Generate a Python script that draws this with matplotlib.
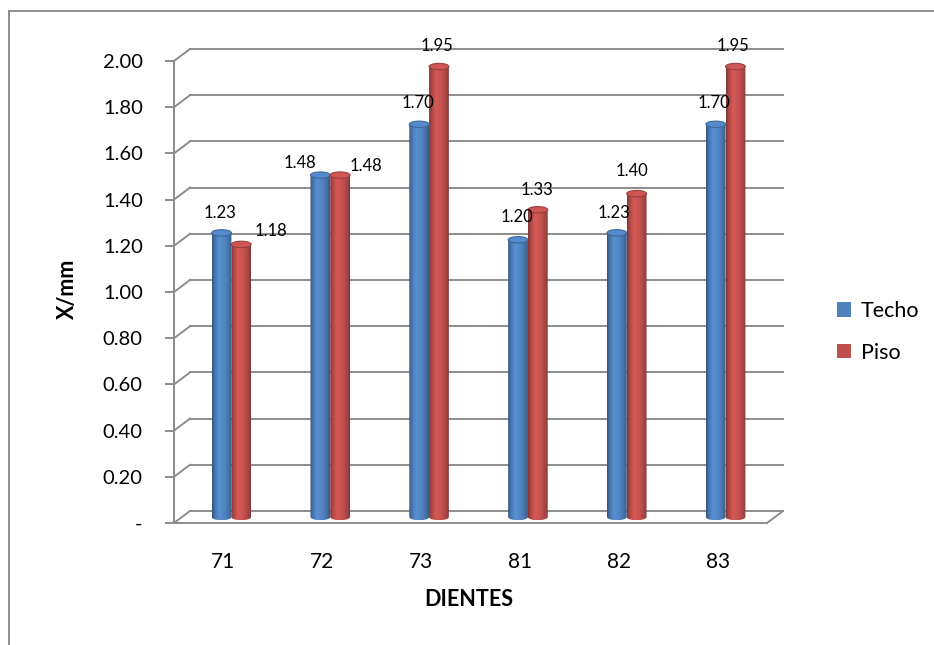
import numpy as np
import matplotlib
matplotlib.use("Agg")
import matplotlib.pyplot as plt
from matplotlib.patches import Polygon, Ellipse, Patch
from matplotlib.lines import Line2D
from matplotlib.colors import to_rgb

plt.rcParams['font.family'] = ['Lato', 'DejaVu Sans']

dientes = ['71', '72', '73', '81', '82', '83']
techo = [1.23, 1.48, 1.70, 1.20, 1.23, 1.70]
piso = [1.18, 1.48, 1.95, 1.33, 1.40, 1.95]
y_ticks = [0.0, 0.2, 0.4, 0.6, 0.8, 1.0, 1.2, 1.4, 1.6, 1.8, 2.0]
y_labels = ['-', '0.20', '0.40', '0.60', '0.80', '1.00', '1.20', '1.40', '1.60', '1.80', '2.00']

series = [('Techo', techo, '#4F81BD'), ('Piso', piso, '#C0504D')]
# label nudges (px) relative to the top of each cylinder
label_nudge = {
    'Techo': [(-2, 20), (-20, 12), (-1, 21), (-1, 23), (-3, 20), (-2, 21)],
    'Piso': [(30, 13), (26, 9), (-2, 21), (-1, 20), (-5, 23), (-2, 21)],
}

W, H = 934, 645
fig = plt.figure(figsize=(W / 100, H / 100), dpi=100)
ax = fig.add_axes([174 / W, (H - 523) / H, (767 - 174) / W, (523 - 61) / H])
ax.set_xlim(-0.5, 5.5)
ax.set_ylim(0, 2.0)

px_x = (767 - 174) / 6.0        # px per category unit
px_y = (523 - 61) / 2.0         # px per value unit
dx_full, dy_full = 16 / px_x, 12 / px_y   # depth of the 3-D box
dx_half, dy_half = dx_full / 2, dy_full / 2
grid_c = '#8C8C8C'
grid_lw = 1.4

# back wall gridlines and the side-wall diagonals
for v in y_ticks:
    ax.add_line(Line2D([-0.5 + dx_full, 5.5 + dx_full], [v + dy_full, v + dy_full],
                       color=grid_c, lw=grid_lw, clip_on=False, zorder=1))
    ax.add_line(Line2D([-0.5, -0.5 + dx_full], [v, v + dy_full],
                       color=grid_c, lw=grid_lw, clip_on=False, zorder=1))
# floor right edge
ax.add_line(Line2D([5.5, 5.5 + dx_full], [0, dy_full], color=grid_c, lw=grid_lw,
                   clip_on=False, zorder=1))

# front axis lines
for s in ['top', 'right']:
    ax.spines[s].set_visible(False)
for s in ['left', 'bottom']:
    ax.spines[s].set_color(grid_c)
    ax.spines[s].set_linewidth(grid_lw)
ax.set_facecolor('none')
ax.set_yticks(y_ticks)
ax.set_yticklabels(y_labels, fontsize=14.5)
ax.tick_params(axis='y', length=6.5, width=grid_lw, color=grid_c, pad=16)
ax.set_xticks(range(len(dientes)))
ax.set_xticklabels(dientes, fontsize=15)
ax.tick_params(axis='x', length=0, pad=21)

bar_w = 0.2
ry = 3.2 / px_y   # half height of the elliptical caps


def shade(color, t):
    stops_t = [0.0, 0.12, 0.35, 0.65, 0.9, 1.0]
    stops_f = [0.66, 0.88, 1.12, 1.02, 0.84, 0.66]
    f = np.interp(t, stops_t, stops_f)
    rgb = np.array(to_rgb(color))
    return np.clip(rgb[None, :] * f[:, None], 0, 1)


def cylinder(xc, top, color):
    x0, x1 = xc - bar_w / 2, xc + bar_w / 2
    yb = dy_half
    yt = top + dy_half
    theta = np.linspace(0, np.pi, 40)
    bottom_arc = np.column_stack([xc + bar_w / 2 * np.cos(theta),
                                  yb - ry * np.sin(theta)])
    body = np.vstack([[x0, yt], [x1, yt], bottom_arc])
    clip = Polygon(body, closed=True, transform=ax.transData, facecolor='none',
                   edgecolor='none')
    ax.add_patch(clip)
    t = np.linspace(0, 1, 64)
    img = shade(color, t)[None, :, :]
    im = ax.imshow(img, extent=[x0, x1, yb - ry, yt], aspect='auto',
                   interpolation='bilinear', zorder=3)
    im.set_clip_path(clip)
    cap_face = np.clip(np.array(to_rgb(color)) * 1.08, 0, 1)
    cap_edge = np.clip(np.array(to_rgb(color)) * 0.8, 0, 1)
    ax.add_patch(Ellipse((xc, yt), bar_w, 2 * ry, facecolor=cap_face,
                         edgecolor=cap_edge, lw=0.8, zorder=4, clip_on=False))


for k, (name, vals, color) in enumerate(series):
    for i, v in enumerate(vals):
        xc = i + dx_half + (k - 0.5) * bar_w
        cylinder(xc, v, color)
        nx, ny = label_nudge[name][i]
        ax.annotate(f'{v:.2f}', xy=(xc, v + dy_half),
                    xytext=(nx * 0.72, ny * 0.72), textcoords='offset points',
                    ha='center', va='center', fontsize=12, annotation_clip=False,
                    zorder=6)

ax.set_xlim(-0.5, 5.5)
ax.set_ylim(0, 2.0)

fig.text(67 / W, 1 - 289 / H, 'X/mm', rotation=90, ha='center', va='center',
         fontsize=15.5, fontweight='bold')
fig.text(469 / W, 1 - 600 / H, 'DIENTES', ha='center', va='center',
         fontsize=15.5, fontweight='bold')

handles = [Patch(facecolor=c, edgecolor='none') for _, _, c in series]
fig.legend(handles, [n for n, _, _ in series], loc='center left',
           bbox_to_anchor=(818 / W, 1 - 332 / H), frameon=False, fontsize=15.5,
           handlelength=0.65, handleheight=0.65, labelspacing=1.0,
           handletextpad=0.45)

# chart area border
fig.add_artist(Line2D([9 / W, 9 / W], [0, 1 - 11 / H], transform=fig.transFigure,
                      color='#868686', lw=1.3))
fig.add_artist(Line2D([9 / W, 1], [1 - 11 / H, 1 - 11 / H], transform=fig.transFigure,
                      color='#868686', lw=1.3))

fig.savefig('out.png', dpi=100)
